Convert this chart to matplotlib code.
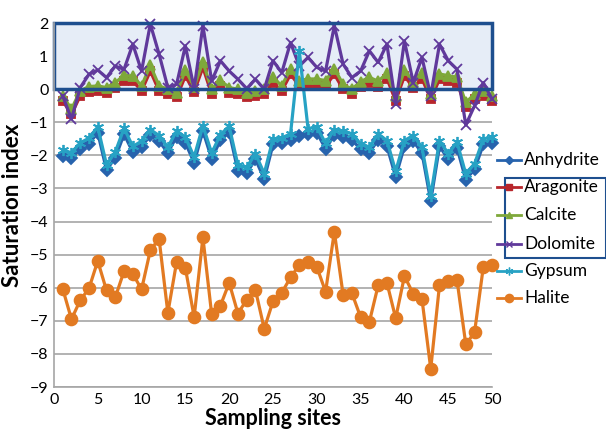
import matplotlib
matplotlib.use("Agg")
import matplotlib.pyplot as plt
from matplotlib.patches import Rectangle
from matplotlib.lines import Line2D

plt.rcParams['font.family'] = ['Lato', 'DejaVu Sans']

sites = list(range(1, 51))

anhydrite = [-2.02, -2.08, -1.80, -1.65, -1.31, -2.44, -2.07, -1.36, -1.90, -1.74,
             -1.39, -1.57, -1.92, -1.43, -1.62, -2.22, -1.26, -2.10, -1.54, -1.29,
             -2.47, -2.53, -2.12, -2.71, -1.67, -1.64, -1.52, -1.41, -1.36, -1.31,
             -1.80, -1.39, -1.43, -1.52, -1.82, -1.92, -1.52, -1.72, -2.65, -1.72,
             -1.57, -1.92, -3.38, -1.72, -2.12, -1.77, -2.73, -2.42, -1.67, -1.62]

gypsum = [-1.84, -1.92, -1.62, -1.48, -1.14, -2.28, -1.90, -1.18, -1.73, -1.57,
          -1.22, -1.40, -1.75, -1.26, -1.45, -2.05, -1.10, -1.93, -1.37, -1.12,
          -2.30, -2.36, -1.95, -2.55, -1.50, -1.47, -1.35, 1.15, -1.19, -1.14,
          -1.63, -1.22, -1.26, -1.35, -1.65, -1.75, -1.35, -1.55, -2.48, -1.55,
          -1.40, -1.75, -3.22, -1.55, -1.95, -1.60, -2.56, -2.25, -1.50, -1.45]

aragonite = [-0.35, -0.76, -0.20, -0.08, -0.05, -0.10, 0.05, 0.25, 0.25, -0.05,
             0.55, -0.05, -0.15, -0.25, 0.40, -0.08, 0.66, -0.15, 0.10, -0.10,
             -0.15, -0.25, -0.20, -0.15, 0.20, -0.05, 0.45, 0.10, 0.15, 0.15,
             0.10, 0.45, 0.00, -0.15, 0.08, 0.20, 0.08, 0.32, -0.35, 0.40,
             0.05, 0.32, -0.30, 0.30, 0.25, 0.20, -0.55, -0.30, -0.20, -0.35]

calcite = [-0.20, -0.60, -0.05, 0.08, 0.10, 0.05, 0.20, 0.42, 0.40, 0.10,
           0.72, 0.10, 0.00, -0.10, 0.57, 0.08, 0.82, 0.00, 0.27, 0.05,
           0.00, -0.10, -0.05, 0.00, 0.36, 0.10, 0.62, 0.26, 0.31, 0.31,
           0.26, 0.62, 0.15, 0.00, 0.23, 0.36, 0.24, 0.48, -0.20, 0.57,
           0.21, 0.48, -0.15, 0.46, 0.41, 0.36, -0.40, -0.15, -0.05, -0.20]

dolomite = [-0.20, -0.90, 0.05, 0.45, 0.58, 0.35, 0.70, 0.60, 1.36, 0.55,
            1.97, 1.06, 0.05, 0.15, 1.31, 0.02, 1.92, 0.25, 0.86, 0.55,
            0.30, 0.02, 0.30, 0.00, 0.86, 0.50, 1.41, 0.70, 0.96, 0.66,
            0.55, 1.92, 0.76, 0.35, 0.55, 1.16, 0.81, 1.36, -0.45, 1.46,
            0.20, 0.96, -0.20, 1.36, 0.86, 0.60, -1.08, -0.50, 0.20, -0.30]

halite = [-6.03, -6.95, -6.38, -6.02, -5.19, -6.08, -6.29, -5.50, -5.58, -6.05,
          -4.87, -4.52, -6.76, -5.22, -5.40, -6.89, -4.48, -6.80, -6.54, -5.85,
          -6.78, -6.36, -6.07, -7.24, -6.41, -6.15, -5.69, -5.31, -5.22, -5.37,
          -6.12, -4.31, -6.21, -6.16, -6.89, -7.03, -5.93, -5.85, -6.92, -5.65,
          -6.18, -6.34, -8.45, -5.92, -5.81, -5.77, -7.71, -7.35, -5.37, -5.31]

series = [
    ("Anhydrite", anhydrite, "#2763ad", "D", 6),
    ("Aragonite", aragonite, "#b8262c", "s", 6),
    ("Calcite", calcite, "#7ea83a", "^", 7),
    ("Dolomite", dolomite, "#60399b", "x", 7),
    ("Gypsum", gypsum, "#27a2c4", (6, 2, 0), 8),
    ("Halite", halite, "#e27a22", "o", 8.5),
]

fig = plt.figure(figsize=(6.06, 4.38), dpi=100)
ax = fig.add_axes([0.089, 0.1164, 0.723, 0.831])

ax.set_xlim(0, 50)
ax.set_ylim(-9, 2)
ax.set_xticks(range(0, 51, 5))
ax.set_yticks(range(-9, 3))
ax.yaxis.grid(True, color="#a6a6a6", linewidth=1.2)
ax.set_axisbelow(True)
for s in ["top", "right"]:
    ax.spines[s].set_visible(False)
for s in ["left", "bottom"]:
    ax.spines[s].set_color("#a6a6a6")
    ax.spines[s].set_linewidth(1.2)
ax.tick_params(axis="both", length=0, labelsize=11.5, pad=4, colors="black")

# highlighted band
ax.add_patch(Rectangle((0, 0), 50, 2, facecolor="#e6edf7", edgecolor="none",
                       zorder=0.6, clip_on=False))

for name, vals, col, mk, ms in series:
    ax.plot(sites, vals, color=col, marker=mk, markersize=ms, linewidth=2.3,
            markeredgecolor=col, markeredgewidth=1.3, zorder=2, clip_on=False)

ax.add_patch(Rectangle((0, 0), 50, 2, facecolor="none", edgecolor="#1e4f8f",
                       linewidth=2.5, zorder=2.5, clip_on=False))

ax.set_xlabel("Sampling sites", fontsize=15.5, fontweight="bold", labelpad=1)
ax.set_ylabel("Saturation index", fontsize=16, fontweight="bold", labelpad=5)

# legend
leg_y = [160, 187, 215, 244, 271, 298]
for (name, vals, col, mk, ms), yp in zip(series, leg_y):
    yf = 1 - yp / 438.0
    fig.add_artist(Line2D([497 / 606, 521 / 606], [yf, yf], color=col, linewidth=2,
                          transform=fig.transFigure))
    fig.add_artist(Line2D([509 / 606], [yf], color=col, marker=mk, markersize=ms * 0.7,
                          markeredgecolor=col, markeredgewidth=1, transform=fig.transFigure))
    fig.text(524 / 606, yf, name, fontsize=12.5, va="center", ha="left")

fig.add_artist(Rectangle((505 / 606, 1 - 258 / 438), 101 / 606, 80 / 438,
                         facecolor="none", edgecolor="#1e4f8f", linewidth=1.5,
                         transform=fig.transFigure))

fig.savefig("out.png", dpi=100)
